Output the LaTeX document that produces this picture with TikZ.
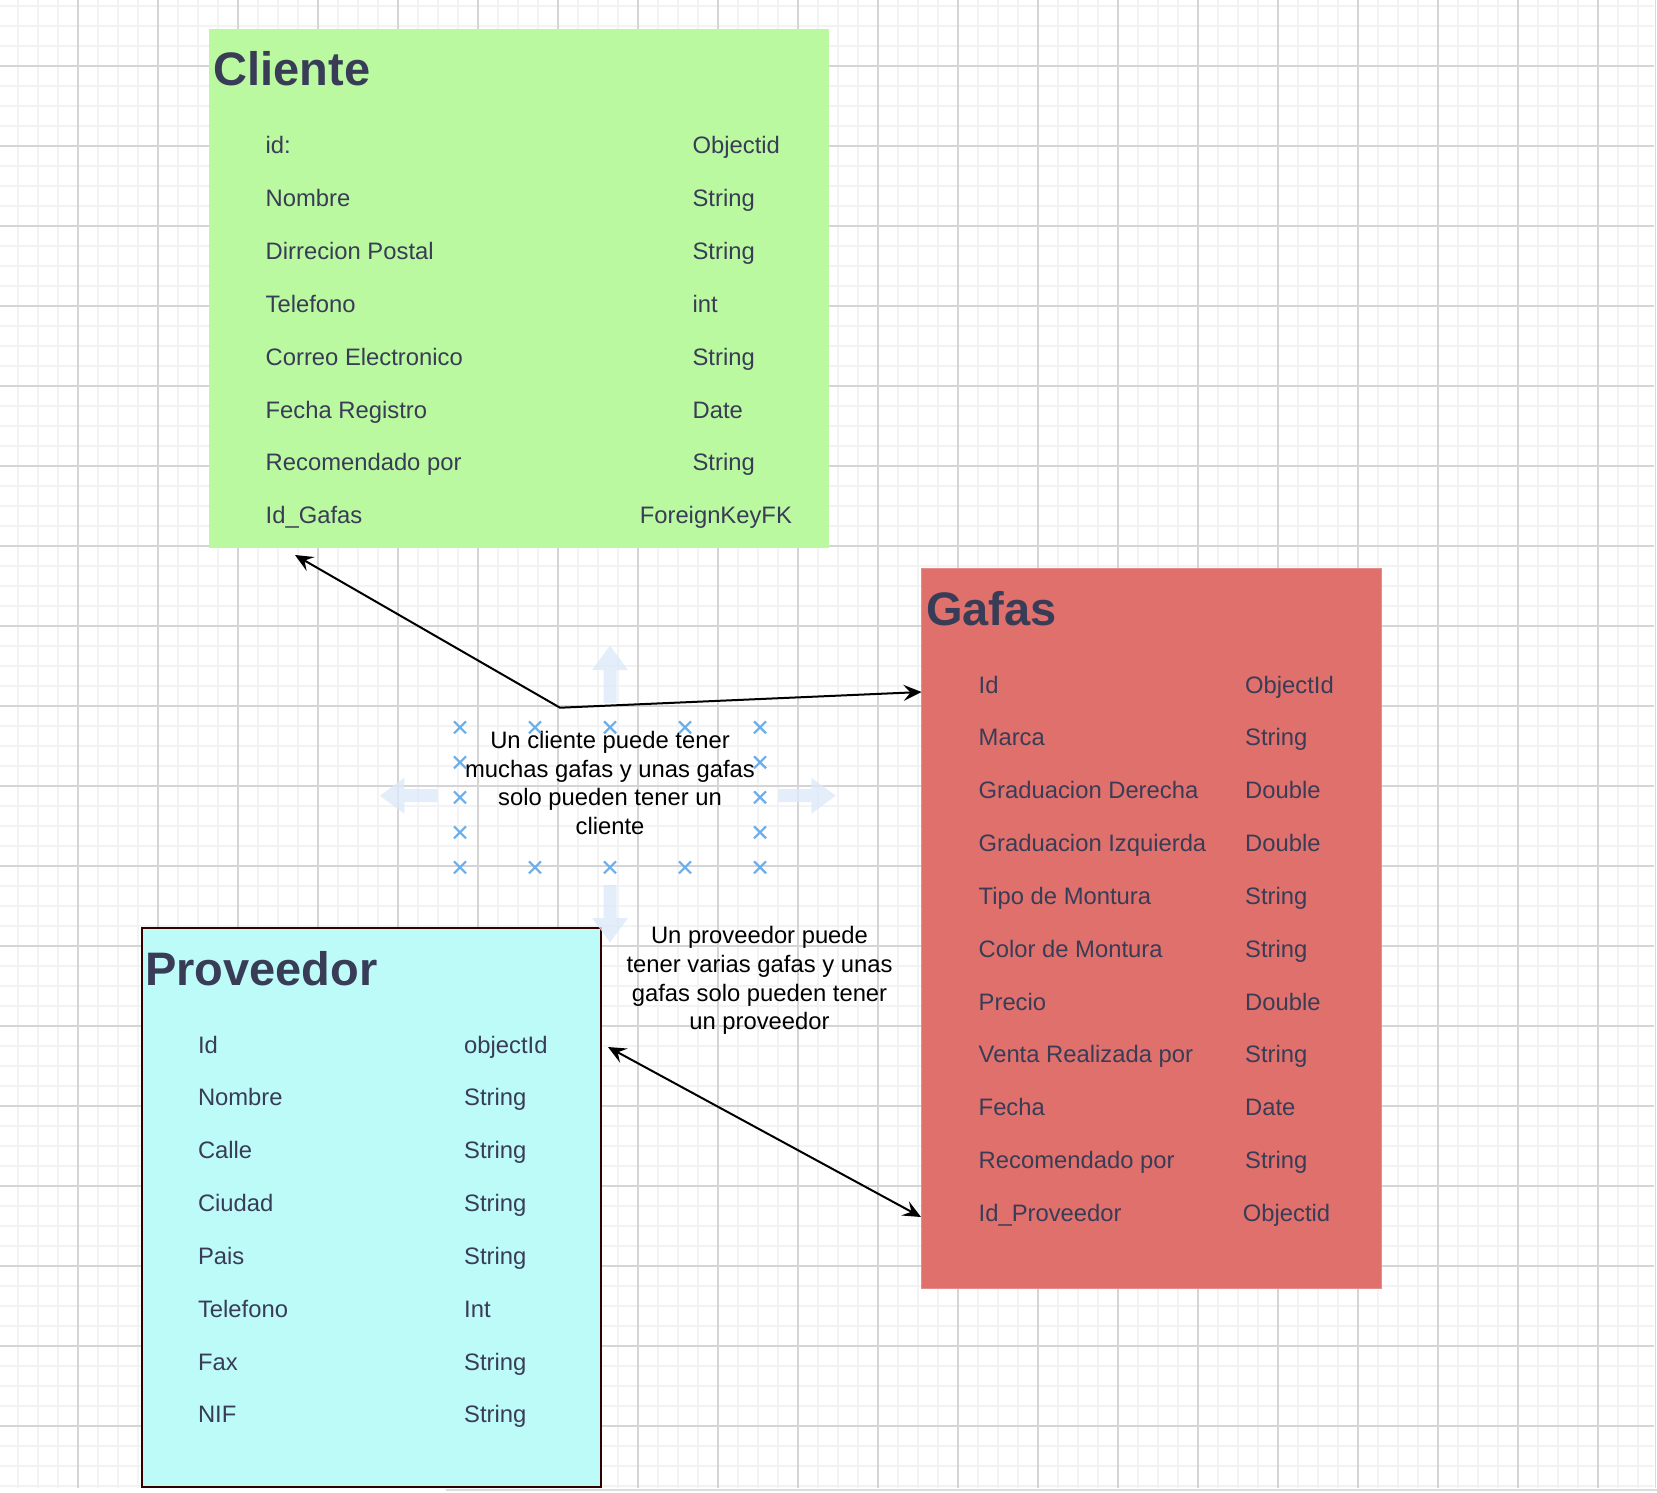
\documentclass[tikz,border=0pt]{standalone}
\usepackage{fontspec}
\setmainfont{Liberation Sans}
\usetikzlibrary{arrows.meta}
\definecolor{verde}{HTML}{BBF9A0}
\definecolor{rojo}{HTML}{E0706B}
\definecolor{celeste}{HTML}{BDFBF9}
\definecolor{tinta}{HTML}{393C56}
\definecolor{azulx}{HTML}{6AAEEB}
\definecolor{azulf}{HTML}{DCEAF9}
\definecolor{rejilla}{HTML}{F3F3F3}
\definecolor{rejillab}{HTML}{D5D5D5}
\tikzset{
  tabla/.style={inner sep=0pt,outer sep=0pt,anchor=north west},
  titulo/.style={anchor=base west,inner sep=0pt,text=tinta,font=\fontsize{47}{56}\selectfont\bfseries},
  campo/.style={anchor=base west,inner sep=0pt,text=tinta,font=\fontsize{23.8}{28.7}\selectfont},
  nota/.style={align=center,inner sep=0pt,font=\fontsize{23.8}{28.7}\selectfont},
  marca/.style={azulx,line width=2.2pt},
  relacion/.style={<->,line width=2pt}
}
\begin{document}
\begin{tikzpicture}[x=1pt,y=-1pt,>={Stealth[length=18pt,width=16pt,inset=7pt]}]
	\useasboundingbox (0,0) rectangle (1657,1492);
	% rejilla de fondo
	\begin{scope}
		\clip (0,0) rectangle (1654,1488);
		\foreach \gx in {18.3,38.3,...,1654} \draw[rejilla,line width=2pt] (\gx,0)--(\gx,1488);
		\foreach \gy in {6,26,...,1488} \draw[rejilla,line width=2pt] (0,\gy)--(1654,\gy);
		\foreach \gx in {78,158,...,1600} \draw[rejillab,line width=1.3pt] (\gx,0)--(\gx,1488);
		\foreach \gy in {66,146,...,1430} \draw[rejillab,line width=1.3pt] (0,\gy)--(1654,\gy);
	\end{scope}
	\draw[black!14,line width=1.5pt] (446,1490)--(1657,1490);
	\draw[black!14] (1655.5,0)--(1655.5,1488);
	% tablas
	\node[tabla,fill=verde,minimum width=620pt,minimum height=519pt] (cliente) at (209,28.5) {};
	\node[tabla,fill=rojo,draw=rojo!80!white,minimum width=460pt,minimum height=720pt] (gafas) at (921.5,568.5) {};
	\node[tabla,fill=celeste,draw=black!80!red,line width=2pt,minimum width=459pt,minimum height=559pt] (proveedor) at (141.5,928) {};
	\node[titulo] (tcliente) at (213.5,85.6) {Cliente};
	\node[titulo] (tgafas) at (926,625.4) {Gafas};
	\node[titulo] (tproveedor) at (145,985) {Proveedor};
	\foreach \campo/\tipo/\xt [count=\i] in {id:/Objectid/692.4, Nombre/String/692.4, Dirrecion Postal/String/692.4, Telefono/int/692.4, Correo Electronico/String/692.4, Fecha Registro/Date/692.4, Recomendado por/String/692.4, Id\_Gafas/ForeignKeyFK/639.6}
	{
		\node[campo] (cc\i) at (265.5,{153.8+52.84*(\i-1)}) {\campo};
		\node[campo] (ct\i) at (\xt,{153.8+52.84*(\i-1)}) {\tipo};
	}
	\foreach \campo/\tipo/\xt [count=\i] in {Id/ObjectId/1245, Marca/String/1245, Graduacion Derecha/Double/1245, Graduacion Izquierda/Double/1245, Tipo de Montura/String/1245, Color de Montura/String/1245, Precio/Double/1245, Venta Realizada por/String/1245, Fecha/Date/1245, Recomendado por/String/1245, Id\_Proveedor/Objectid/1242.7}
	{
		\node[campo] (gc\i) at (978.5,{693+52.84*(\i-1)}) {\campo};
		\node[campo] (gt\i) at (\xt,{693+52.84*(\i-1)}) {\tipo};
	}
	\foreach \campo/\tipo [count=\i] in {Id/objectId, Nombre/String, Calle/String, Ciudad/String, Pais/String, Telefono/Int, Fax/String, NIF/String}
	{
		\node[campo] (pc\i) at (197.8,{1053+52.84*(\i-1)}) {\campo};
		\node[campo] (pt\i) at (464,{1053+52.84*(\i-1)}) {\tipo};
	}
	% relaciones
	\coordinate (c1) at (295,555);
	\coordinate (codo) at (560,707.7);
	\coordinate (g1) at (921.5,692);
	\coordinate (p1) at (608,1047);
	\coordinate (g2) at (921,1217);
	\draw[relacion] (c1)--(codo)--(g1);
	\draw[relacion] (p1)--(g2);
	% notas
	\node[nota] (nota1) at (610,782.9) {Un cliente puede tener\\muchas gafas y unas gafas\\solo pueden tener un\\cliente};
	\node[nota] (nota2) at (759.5,980.7) {Un proveedor puede\\tener varias gafas y unas\\gafas solo pueden tener\\un proveedor};
	% marcas de seleccion
	\foreach \mx in {460,535,610,685,760} \foreach \my in {727.3,867.3}
		\draw[marca,shift={(\mx,\my)}] (-6,-6)--(6,6) (-6,6)--(6,-6);
	\foreach \mx in {460,760} \foreach \my in {762.3,797.3,832.3}
		\draw[marca,shift={(\mx,\my)}] (-6,-6)--(6,6) (-6,6)--(6,-6);
	\foreach \ax/\ay/\ang in {778.3/795.7/0, 437.3/795.7/180, 610/703/90, 610/885/-90}
		\fill[azulf,opacity=0.8,shift={(\ax,\ay)},rotate=\ang] (0,-6.5)--(33,-6.5)--(33,-18)--(57.5,0)--(33,18)--(33,6.5)--(0,6.5)--cycle;
\end{tikzpicture}
\end{document}
